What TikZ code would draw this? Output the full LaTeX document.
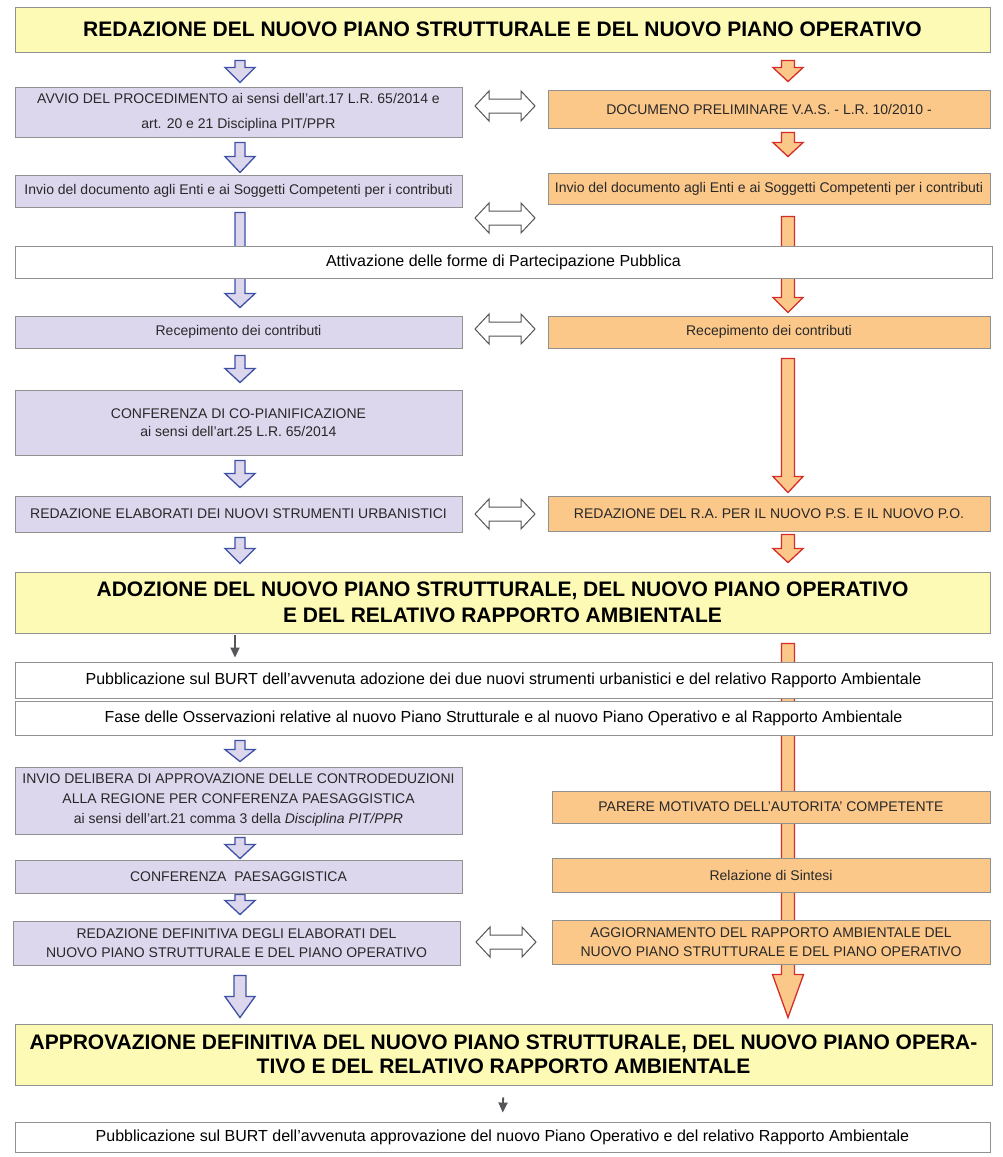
\documentclass[tikz,border=0pt]{standalone}
\usepackage{fontspec}
\setmainfont{Liberation Sans}
\usetikzlibrary{calc, backgrounds, arrows.meta}

\definecolor{giallino}{RGB}{252,250,180}
\definecolor{lilla}{RGB}{221,215,238}
\definecolor{arancio}{RGB}{251,200,138}
\definecolor{bordo}{RGB}{145,145,145}
\definecolor{blu}{RGB}{60,80,165}
\definecolor{rosso}{RGB}{215,45,40}
\definecolor{grigio}{RGB}{85,85,90}
\definecolor{testo}{RGB}{40,40,40}

\tikzset{gambo/.code={\def\sw{#1}}, testa/.code={\def\hw{#1}}}
\tikzstyle{scatola} = [rectangle, draw=bordo, line width=0.9bp, align=center, inner sep=2bp, text=testo]
\tikzstyle{titolo} = [scatola, fill=giallino, text=black, font=\fontsize{21bp}{26.5bp}\selectfont\bfseries, minimum width=975bp]
\tikzstyle{viola} = [scatola, fill=lilla, font=\fontsize{14bp}{18.5bp}\selectfont, minimum width=447bp]
\tikzstyle{aranc} = [scatola, fill=arancio, font=\fontsize{14bp}{18.5bp}\selectfont, minimum width=442bp]
\tikzstyle{bianca} = [scatola, fill=white, text=black, font=\fontsize{16bp}{20bp}\selectfont, minimum width=977bp]
\tikzstyle{frblu} = [draw=blu, fill=lilla, line width=1.3bp, gambo=5, testa=15]
\tikzstyle{frrossa} = [draw=rosso, fill=arancio, line width=1.3bp, gambo=6.5, testa=15]
\tikzstyle{doppia} = [draw=grigio, fill=white, line width=1bp]
\tikzstyle{grigia} = [draw=grigio, line width=1.8bp, -{Triangle[width=9bp,length=10bp]}]

% freccia piena verticale: stile, da, a, colonna, distacco sopra, distacco sotto, punta
\newcommand{\frecciagiu}[7]{%
  \path[#1] let \p1=(#2.south -| #4), \p2=(#3.north -| #4) in
    (\x1-\sw bp,\y1-#5bp) -- (\x1+\sw bp,\y1-#5bp) -- (\x1+\sw bp,\y2+#6bp+#7bp)
    -- (\x1+\hw bp,\y2+#6bp+#7bp) -- (\x1,\y2+#6bp) -- (\x1-\hw bp,\y2+#6bp+#7bp)
    -- (\x1-\sw bp,\y2+#6bp+#7bp) -- cycle;}
% freccia doppia tra le due colonne
\newcommand{\frecciadoppia}[3]{%
  \path[doppia] let \p1=(#1.east), \p2=(#2.west), \p3=($(\x1,\y1)!0.5!(\x2,\y1)+(0,#3)$) in
    (\x3-30bp,\y3) -- (\x3-16bp,\y3+15bp) -- (\x3-16bp,\y3+7bp) -- (\x3+16bp,\y3+7bp)
    -- (\x3+16bp,\y3+15bp) -- (\x3+30bp,\y3) -- (\x3+16bp,\y3-15bp) -- (\x3+16bp,\y3-7bp)
    -- (\x3-16bp,\y3-7bp) -- (\x3-16bp,\y3-15bp) -- cycle;}

\begin{document}
\begin{tikzpicture}[x=1bp, y=-1bp]
    \useasboundingbox (0,0) rectangle (1003,1157);
    \coordinate (bcol) at (240,0);
    \coordinate (rcol) at (788,0);
    \coordinate (gcol) at (235,0);

    \node (tit1) [titolo, minimum height=45bp] at (502.5,29.5) {REDAZIONE DEL NUOVO PIANO STRUTTURALE E DEL NUOVO PIANO OPERATIVO};

    \node (avvio) [viola, minimum height=50bp, font=\fontsize{14bp}{25bp}\selectfont] at (238.5,112) {AVVIO DEL PROCEDIMENTO ai sensi dell’art.17 L.R. 65/2014 e\\art. 20 e 21 Disciplina PIT/PPR};
    \node (docum) [aranc, minimum height=38bp] at (769,109) {DOCUMENO PRELIMINARE V.A.S. - L.R. 10/2010 -};
    \node (invioL) [viola, minimum height=32bp] at (238.5,191) {Invio del documento agli Enti e ai Soggetti Competenti per i contributi};
    \node (invioR) [aranc, minimum height=31bp] at (769,188.5) {Invio del documento agli Enti e ai Soggetti Competenti per i contributi};
    \node (attiv) [bianca, minimum height=32bp] at (503.5,262) {Attivazione delle forme di Partecipazione Pubblica};
    \node (recepL) [viola, minimum height=32bp] at (238.5,332) {Recepimento dei contributi};
    \node (recepR) [aranc, minimum height=32bp] at (769,332) {Recepimento dei contributi};
    \node (copian) [viola, minimum height=65bp] at (238.5,422.5) {CONFERENZA DI CO-PIANIFICAZIONE\\ai sensi dell’art.25 L.R. 65/2014};
    \node (redL) [viola, minimum height=36bp] at (238.5,514) {REDAZIONE ELABORATI DEI NUOVI STRUMENTI URBANISTICI};
    \node (redR) [aranc, minimum height=35bp] at (769,513.5) {REDAZIONE DEL R.A. PER IL NUOVO P.S. E IL NUOVO P.O.};

    \node (adoz) [titolo, minimum height=61bp] at (502.5,602.5) {ADOZIONE DEL NUOVO PIANO STRUTTURALE, DEL NUOVO PIANO OPERATIVO\\E DEL RELATIVO RAPPORTO AMBIENTALE};
    \node (pub1) [bianca, minimum height=36bp] at (503.5,680) {Pubblicazione sul BURT dell’avvenuta adozione dei due nuovi strumenti urbanistici e del relativo Rapporto Ambientale};
    \node (fase) [bianca, minimum height=34bp] at (503.5,718) {Fase delle Osservazioni relative al nuovo Piano Strutturale e al nuovo Piano Operativo e al Rapporto Ambientale};

    \node (delib) [viola, minimum height=67bp, font=\fontsize{14bp}{20bp}\selectfont] at (238.5,800.5) {INVIO DELIBERA DI APPROVAZIONE DELLE CONTRODEDUZIONI\\ALLA REGIONE PER CONFERENZA PAESAGGISTICA\\ai sensi dell’art.21 comma 3 della \textit{Disciplina PIT/PPR}};
    \node (parere) [aranc, minimum width=438bp, minimum height=32bp] at (771,807) {PARERE MOTIVATO DELL’AUTORITA’ COMPETENTE};
    \node (paes) [viola, minimum height=33bp] at (238.5,876.5) {CONFERENZA~ PAESAGGISTICA};
    \node (sintesi) [aranc, minimum width=438bp, minimum height=34bp] at (771,875) {Relazione di Sintesi};
    \node (defin) [viola, minimum height=44bp] at (236.5,943) {REDAZIONE DEFINITIVA DEGLI ELABORATI DEL\\NUOVO PIANO STRUTTURALE E DEL PIANO OPERATIVO};
    \node (aggior) [aranc, minimum width=438bp, minimum height=44bp] at (771,942) {AGGIORNAMENTO DEL RAPPORTO AMBIENTALE DEL\\NUOVO PIANO STRUTTURALE E DEL PIANO OPERATIVO};

    \node (approv) [titolo, minimum width=977bp, minimum height=61bp, font=\fontsize{21bp}{23.5bp}\selectfont\bfseries] at (503.5,1054.5) {APPROVAZIONE DEFINITIVA DEL NUOVO PIANO STRUTTURALE, DEL NUOVO PIANO OPERA-\\TIVO E DEL RELATIVO RAPPORTO AMBIENTALE};
    \node (pub2) [bianca, minimum width=975bp, minimum height=30bp] at (502.5,1137) {Pubblicazione sul BURT dell’avvenuta approvazione del nuovo Piano Operativo e del relativo Rapporto Ambientale};

    % frecce piene, dietro alle caselle
    \begin{pgfonlayer}{background}
    \fill[white] (0,0) rectangle (1003,1157);
    \frecciagiu{frblu}{tit1}{avvio}{bcol}{8}{4}{15}
    \frecciagiu{frblu}{avvio}{invioL}{bcol}{5}{2}{16}
    \frecciagiu{frblu}{invioL}{recepL}{bcol}{5}{8}{14}
    \frecciagiu{frblu}{recepL}{copian}{bcol}{7}{7}{14}
    \frecciagiu{frblu}{copian}{redL}{bcol}{5}{8}{14}
    \frecciagiu{frblu}{redL}{adoz}{bcol}{5}{8}{15}
    \frecciagiu{frblu}{fase}{delib}{bcol}{5}{5}{12}
    \frecciagiu{frblu}{delib}{paes}{bcol}{3}{1}{14}
    \frecciagiu{frblu}{paes}{defin}{bcol}{1}{6}{14}
    \frecciagiu{frblu, gambo=6}{defin}{approv}{bcol}{10}{6}{21}

    \frecciagiu{frrossa}{tit1}{docum}{rcol}{8}{8}{14}
    \frecciagiu{frrossa}{docum}{invioR}{rcol}{4}{16}{14}
    \frecciagiu{frrossa}{invioR}{recepR}{rcol}{12}{3}{15}
    \frecciagiu{frrossa}{recepR}{redR}{rcol}{10}{3}{16}
    \frecciagiu{frrossa}{redR}{adoz}{rcol}{3}{9}{14}
    \frecciagiu{frrossa, testa=15.5}{adoz}{approv}{rcol}{10}{6}{43}
    \end{pgfonlayer}

    \frecciadoppia{avvio}{docum}{-6}
    \frecciadoppia{invioL}{invioR}{27}
    \frecciadoppia{recepL}{recepR}{-3}
    \frecciadoppia{redL}{redR}{0}
    \frecciadoppia{defin}{aggior}{-1}

    \draw [grigia, shorten <=2bp, shorten >=4bp] (adoz.south -| gcol) -- (pub1.north -| gcol);
    \draw [grigia, shorten <=12bp, shorten >=9bp] (approv.south) -- (pub2.north);
\end{tikzpicture}
\end{document}
